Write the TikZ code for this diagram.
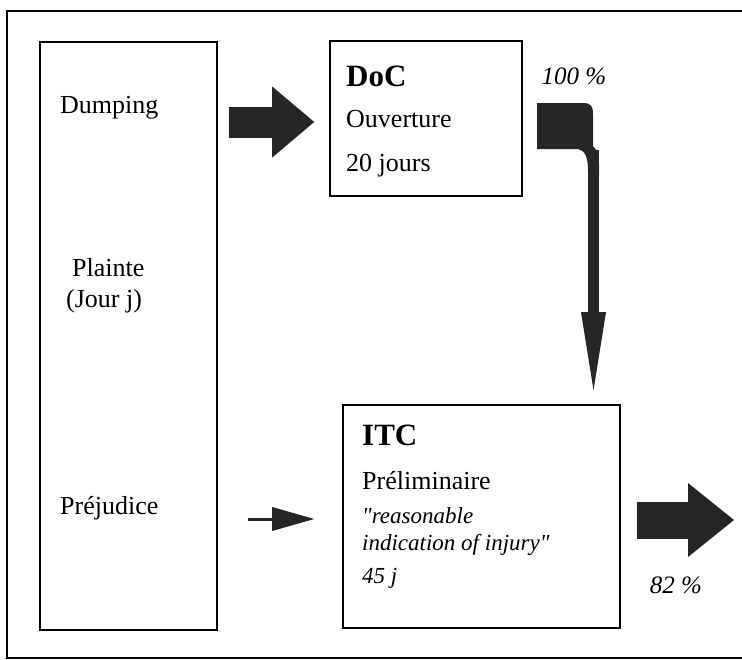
\documentclass[tikz,border=0pt]{standalone}
\usepackage{fontspec}
\setmainfont{Liberation Serif}[Ligatures=TeXOff]
\usetikzlibrary{arrows.meta}
\definecolor{arrowgray}{RGB}{38,38,38}

\tikzset{
  box/.style={draw, line width=1.6pt, inner sep=0pt},
  txt/.style={anchor=west, inner sep=0pt, font=\fontsize{26}{30}\selectfont},
  head/.style={anchor=west, inner sep=0pt, font=\fontsize{31}{34}\selectfont\bfseries},
  itxt/.style={anchor=west, inner sep=0pt, align=left, font=\fontsize{23}{27}\selectfont\itshape},
  pct/.style={inner sep=0pt, font=\fontsize{25}{28}\selectfont\itshape},
  fatarrow/.style={arrowgray, line width=#1, -{Triangle[length=42pt,width=71pt,line width=0pt]}},
  thinarrow/.style={arrowgray, line width=3pt, -{Triangle[length=42pt,width=24pt,line width=0pt]}}
}

\begin{document}
\begin{tikzpicture}[x=1pt,y=-1pt]
\useasboundingbox (0,0) rectangle (742,659);
% cadre
\draw[line width=1.6pt] (7,11) rectangle (760,658);

% plainte
\node[box, minimum width=177pt, minimum height=588pt] (plainte) at (128.5,336) {};
\node[txt] (dumping) at (60,108) {Dumping};
\node[txt] (jour) at (72,268) {Plainte};
\node[txt] (jourj) at (66,301) {(Jour j)};
\node[txt] (prejudice) at (60,508) {Préjudice};

% DoC
\node[box, minimum width=192pt, minimum height=155pt] (doc) at (426,118.5) {};
\node[head] (doctitle) at (346,76) {DoC};
\node[txt] (ouverture) at (346,119) {Ouverture};
\node[txt] (docdays) at (346,166) {20 jours};

% ITC
\node[box, minimum width=277pt, minimum height=223pt] (itc) at (481.5,516.5) {};
\node[head] (itctitle) at (362,435) {ITC};
\node[txt] (prelim) at (362,481) {Préliminaire};
\node[itxt] (injury) at (362,531) {"reasonable\\indication of injury"};
\node[itxt] (itcdays) at (362,578) {45 j};

\node[pct] (cent) at (574,76) {100 \%};
\node[pct] (quatre) at (676,585) {82 \%};

% fleches
\coordinate (dumpout) at (229,122);
\coordinate (prejout) at (248,519);
\coordinate (stemtop) at (593.5,150);
\coordinate (exit) at (734,520);

\draw[fatarrow=31pt] (dumpout) -- ([xshift=-15pt]doc.west |- dumpout);
\draw[thinarrow] (prejout) -- ([xshift=-28pt]itc.west |- prejout);
\draw[fatarrow=37pt, -{Triangle[length=46pt,width=74pt,line width=0pt]}]
  ([xshift=16pt]itc.east |- exit) -- (exit);

% coude DoC -> ITC
\fill[arrowgray] (537,103) -- (583,103) .. controls (591,103) and (593,106) .. (593,114)
  -- (593,146) .. controls (597,150) and (599,155) .. (599,165) -- (599,175)
  -- (588,175) -- (588,170) .. controls (588,158) and (585,150) .. (578,149)
  -- (537,149) -- cycle;
\draw[arrowgray, line width=11pt, -{Triangle[length=78pt,width=25pt,line width=0pt]}]
  (stemtop) -- ([yshift=14pt]itc.north -| stemtop);
\end{tikzpicture}
\end{document}
